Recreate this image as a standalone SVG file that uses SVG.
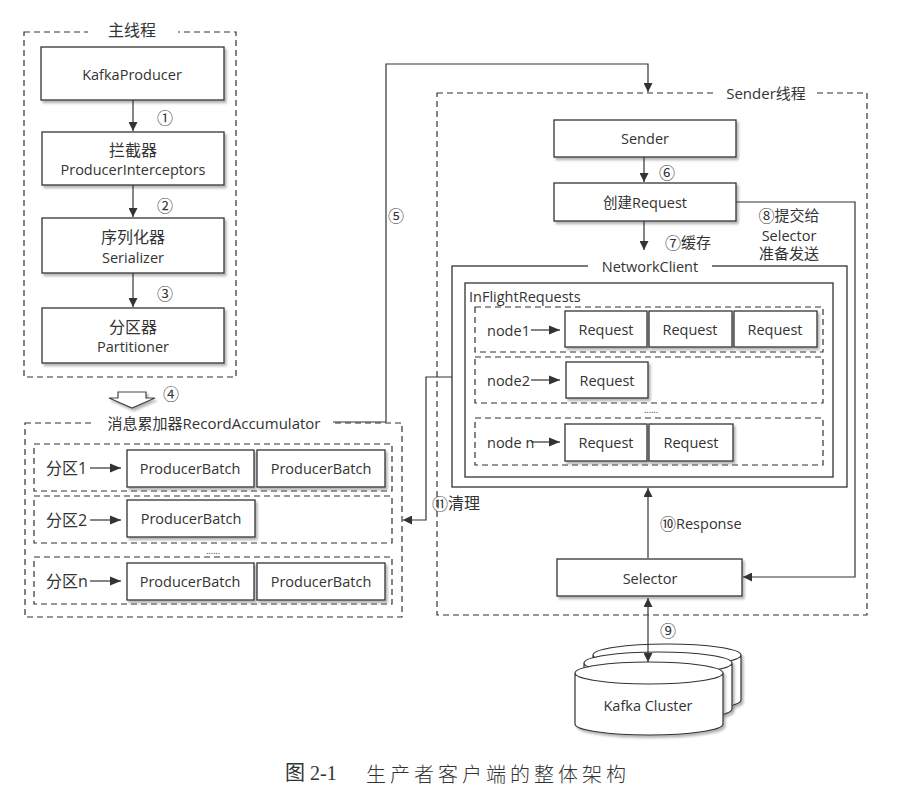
<svg xmlns="http://www.w3.org/2000/svg" width="901" height="800" viewBox="0 0 901 800">
<defs>
<style>
text{font-family:"Open Sans","Noto Sans CJK SC",sans-serif;fill:#333;dominant-baseline:central}
.c{text-anchor:middle}
.box{fill:#fff;stroke:#333;stroke-width:1.3;filter:url(#sh)}
.dash{fill:none;stroke:#333;stroke-width:1.2;stroke-dasharray:6,4}
.sol{fill:none;stroke:#333;stroke-width:1.3}
.ln{fill:none;stroke:#333;stroke-width:1.2}
.t14{font-size:14.5px}
.t13{font-size:14.5px}
.t15{font-size:15px}
.t16{font-size:16px}
.num{font-family:"Noto Sans CJK SC","DejaVu Sans",sans-serif;font-size:16px}
.wh{fill:#fff;stroke:none}
</style>
<filter id="sh" x="-10%" y="-20%" width="130%" height="150%">
<feDropShadow dx="2" dy="2.5" stdDeviation="1.2" flood-color="#777" flood-opacity="0.55"/>
</filter>
<marker id="ah" viewBox="0 0 10 10" refX="10" refY="5" markerWidth="9" markerHeight="9" markerUnits="userSpaceOnUse" orient="auto-start-reverse">
<path d="M0,0 L10,5 L0,10 z" fill="#333"/>
</marker>
<marker id="ah2" viewBox="0 0 10 10" refX="10" refY="5" markerWidth="11" markerHeight="11" markerUnits="userSpaceOnUse" orient="auto">
<path d="M0,1 L10,5 L0,9 z" fill="#333"/>
</marker>
</defs>
<rect width="901" height="800" fill="#fff"/>

<!-- Main thread -->
<g id="main-thread">
<rect class="dash" x="24" y="32" width="212" height="345"/>
<rect class="wh" x="88" y="22" width="90" height="20"/>
<text class="c t16" x="132" y="30">主线程</text>
</g>
<g id="kafkaproducer"><rect class="box" x="41" y="47" width="183" height="53"/><text class="c t13" x="132" y="74">KafkaProducer</text></g>
<g id="interceptors"><rect class="box" x="42" y="132" width="182" height="53"/><text class="c t16" x="133" y="150">拦截器</text><text class="c t13" x="133" y="169">ProducerInterceptors</text></g>
<g id="serializer"><rect class="box" x="42" y="218" width="182" height="55"/><text class="c t16" x="133" y="237">序列化器</text><text class="c t13" x="133" y="257">Serializer</text></g>
<g id="partitioner"><rect class="box" x="42" y="308" width="182" height="55"/><text class="c t16" x="133" y="327">分区器</text><text class="c t13" x="133" y="346">Partitioner</text></g>

<!-- Record accumulator -->
<g id="record-accumulator">
<rect class="dash" x="25" y="423" width="377" height="194"/>
<rect class="wh" x="92" y="412" width="240" height="22"/>
<text class="c t15" x="214" y="423">消息累加器RecordAccumulator</text>
<rect class="dash" x="34" y="444" width="358" height="47"/>
<rect class="dash" x="34" y="496" width="358" height="47"/>
<rect class="dash" x="34" y="557" width="358" height="47"/>
<text class="c" x="213" y="550" font-size="9">......</text>
<text class="t16" x="46" y="468">分区1</text>
<text class="t16" x="46" y="520">分区2</text>
<text class="t16" x="46" y="581">分区n</text>
</g>
<g id="pb-1-1"><rect class="box" x="127" y="450" width="127" height="37"/><text class="c t14" x="190" y="468">ProducerBatch</text></g>
<g id="pb-1-2"><rect class="box" x="257" y="450" width="128" height="37"/><text class="c t14" x="321" y="468">ProducerBatch</text></g>
<g id="pb-2-1"><rect class="box" x="127" y="500" width="128" height="37"/><text class="c t14" x="191" y="518">ProducerBatch</text></g>
<g id="pb-n-1"><rect class="box" x="127" y="563" width="127" height="37"/><text class="c t14" x="190" y="581">ProducerBatch</text></g>
<g id="pb-n-2"><rect class="box" x="257" y="563" width="128" height="37"/><text class="c t14" x="321" y="581">ProducerBatch</text></g>

<!-- Sender thread -->
<g id="sender-thread">
<rect class="dash" x="437" y="93" width="430" height="522"/>
<rect class="wh" x="716" y="82" width="100" height="22"/>
<text class="c t15" x="766" y="93">Sender线程</text>
</g>
<g id="sender"><rect class="box" x="554" y="120" width="182" height="37"/><text class="c t14" x="645" y="138">Sender</text></g>
<g id="create-request"><rect class="box" x="554" y="183" width="182" height="38"/><text class="c t14" x="645" y="202">创建Request</text></g>

<g id="networkclient">
<rect class="sol" x="452" y="266" width="395" height="221"/>
<rect class="wh" x="588" y="256" width="124" height="20"/>
<text class="c t14" x="650" y="266">NetworkClient</text>
</g>
<g id="inflightrequests">
<rect class="sol" x="465" y="283" width="368" height="194"/>
<text class="t14" x="469" y="296">InFlightRequests</text>
<rect class="dash" x="475" y="307" width="348" height="45"/>
<rect class="dash" x="475" y="357" width="348" height="46"/>
<rect class="dash" x="475" y="418" width="348" height="47"/>
<text class="c" x="651" y="409" font-size="9">......</text>
<text class="t14" x="487" y="330">node1</text>
<text class="t14" x="487" y="380">node2</text>
<text class="t14" x="487" y="442">node n</text>
</g>
<g id="req-1-1"><rect class="box" x="565" y="311" width="82" height="36"/><text class="c t14" x="606" y="329">Request</text></g>
<g id="req-1-2"><rect class="box" x="649" y="311" width="83" height="36"/><text class="c t14" x="690" y="329">Request</text></g>
<g id="req-1-3"><rect class="box" x="734" y="311" width="83" height="36"/><text class="c t14" x="775" y="329">Request</text></g>
<g id="req-2-1"><rect class="box" x="566" y="362" width="82" height="36"/><text class="c t14" x="607" y="380">Request</text></g>
<g id="req-n-1"><rect class="box" x="565" y="424" width="82" height="37"/><text class="c t14" x="606" y="442">Request</text></g>
<g id="req-n-2"><rect class="box" x="649" y="424" width="84" height="37"/><text class="c t14" x="691" y="442">Request</text></g>

<g id="selector"><rect class="box" x="557" y="559" width="185" height="37"/><text class="c t14" x="650" y="578">Selector</text></g>

<g id="kafka-cluster" fill="#fff" stroke="#333" stroke-width="1.2">
<path d="M593,655 L593,700 A74,11 0 0 0 741,700 L741,655 A74,11 0 0 0 593,655 A74,11 0 0 0 741,655" filter="url(#sh)"/>
<path d="M584,663 L584,709 A74,11 0 0 0 732,709 L732,663 A74,11 0 0 0 584,663 A74,11 0 0 0 732,663" filter="url(#sh)"/>
<path d="M575,673 L575,724 A74,11 0 0 0 723,724 L723,673 A74,11 0 0 0 575,673 A74,11 0 0 0 723,673" filter="url(#sh)"/>
<text class="c t14" x="648" y="705" stroke="none">Kafka Cluster</text>
</g>

<!-- Connectors -->
<g id="connectors">
<line class="ln" x1="133" y1="100" x2="133" y2="131" marker-end="url(#ah)"/>
<line class="ln" x1="133" y1="185" x2="133" y2="217" marker-end="url(#ah)"/>
<line class="ln" x1="133" y1="273" x2="133" y2="307" marker-end="url(#ah)"/>
<polygon points="118,392 146,392 146,398 155,398 132,408 109,398 118,398" fill="#fff" stroke="#444" stroke-width="1.2" filter="url(#sh)"/>
<line class="ln" x1="90" y1="468" x2="121" y2="468" marker-end="url(#ah2)"/>
<line class="ln" x1="90" y1="520" x2="121" y2="520" marker-end="url(#ah2)"/>
<line class="ln" x1="90" y1="581" x2="121" y2="581" marker-end="url(#ah2)"/>
<polyline class="ln" points="333,422 386,422 386,64 648,64 648,92" marker-end="url(#ah)"/>
<line class="ln" x1="644" y1="157" x2="644" y2="182" marker-end="url(#ah)"/>
<line class="ln" x1="644" y1="221" x2="644" y2="250" marker-end="url(#ah)"/>
<polyline class="ln" points="736,202 855,202 855,577 743,577" marker-end="url(#ah)"/>
<line class="ln" x1="531" y1="330" x2="560" y2="330" marker-end="url(#ah2)"/>
<line class="ln" x1="531" y1="380" x2="560" y2="380" marker-end="url(#ah2)"/>
<line class="ln" x1="531" y1="442" x2="560" y2="442" marker-end="url(#ah2)"/>
<polyline class="ln" points="452,377 426,377 426,520 403,520" marker-end="url(#ah)"/>
<line class="ln" x1="648" y1="558" x2="648" y2="488" marker-end="url(#ah)"/>
<line class="ln" x1="648" y1="598" x2="648" y2="662" marker-start="url(#ah)" marker-end="url(#ah)"/>
</g>

<!-- Labels -->
<g id="labels">
<text class="c num" x="165" y="117">①</text>
<text class="c num" x="165" y="205">②</text>
<text class="c num" x="165" y="293">③</text>
<text class="c num" x="171" y="393">④</text>
<text class="c num" x="396" y="215">⑤</text>
<text class="c num" x="667" y="172">⑥</text>
<text class="t15" x="665" y="242"><tspan class="num">⑦</tspan>缓存</text>
<text class="c t15" x="789" y="215"><tspan class="num">⑧</tspan>提交给</text>
<text class="c t14" x="789" y="235">Selector</text>
<text class="c t15" x="789" y="253">准备发送</text>
<text class="c num" x="668" y="630">⑨</text>
<text class="t14" x="660" y="523"><tspan class="num">⑩</tspan>Response</text>
<text class="t16" x="432" y="503"><tspan class="num" font-size="18px">⑪</tspan>清理</text>
</g>

<g id="caption" style="font-size:20px">
<text x="285" y="773" style="font-family:'Liberation Serif','Noto Sans CJK SC',serif">图 2-1</text>
<text x="366" y="773" style="font-family:'Noto Sans CJK SC',sans-serif;font-weight:300" letter-spacing="4">生产者客户端的整体架构</text>
</g>
</svg>
